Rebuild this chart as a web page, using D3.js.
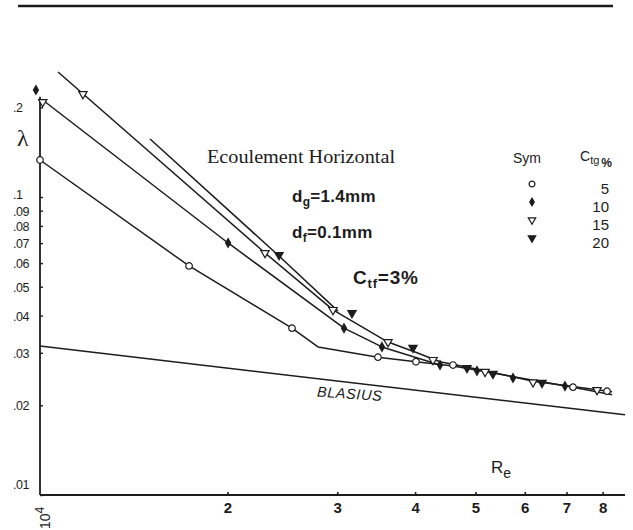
<!DOCTYPE html>
<html><head><meta charset="utf-8">
<script src="https://cdn.jsdelivr.net/npm/d3@7"></script>
<style>body{margin:0;background:#fff}svg{display:block}</style>
</head><body>
<svg id="c" width="633" height="530"></svg>
<script>
// ---- data ----
const reTicks = [20000, 30000, 40000, 50000, 60000, 70000, 80000];
const reTickLabels = ["2", "3", "4", "5", "6", "7", "8"];
const lambdaTicks = [0.01, 0.02, 0.03, 0.04, 0.05, 0.06, 0.07, 0.08, 0.09, 0.1, 0.2];
const lambdaTickLabels = [".01", ".02", ".03", ".04", ".05", ".06", ".07", ".08", ".09", ".1", ".2"];
const reMin = 10000, reMax = 86900, lambdaMin = 0.01, lambdaMax = 0.217;

const seriesNames = ["5", "10", "15", "20"];
// fitted curves (Re, lambda)
const curve5  = [[10000,0.1331],[17350,0.0587],[25380,0.0363],[27940,0.0314],[34870,0.0290],[40130,0.0280],[46020,0.0271],[71700,0.0230],[82830,0.0217]];
const curve10 = [[10100,0.2116],[20040,0.0701],[30760,0.0363],[35390,0.0314],[43860,0.0273]];
const curve15 = [[10690,0.2628],[22970,0.0649],[29530,0.0418],[36190,0.0326],[40280,0.0300],[43860,0.0280],[51810,0.0261],[61850,0.0241],[82830,0.0222]];
const curve20 = [[15020,0.1565],[24190,0.0634],[30080,0.0414]];
const blasius = [[10000,0.0316],[86900,0.0186]];
// measured points
const pts5  = [[10000,0.1331],[17350,0.0587],[25380,0.0363],[34870,0.0290],[40130,0.0280],[46020,0.0273],[71700,0.0230],[81320,0.0223]];
const pts10 = [[9850,0.2286],[20040,0.0701],[30760,0.0363],[35390,0.0314],[43860,0.0273],[50280,0.0261],[57440,0.0247],[69610,0.0232]];
const pts15 = [[10100,0.2084],[11720,0.2216],[22970,0.0649],[29530,0.0418],[36190,0.0326],[42740,0.0284],[51810,0.0259],[61850,0.0239],[78370,0.0225]];
const pts20 = [[24190,0.0639],[31680,0.0408],[39690,0.0312],[48460,0.0267],[53340,0.0255],[63950,0.0238]];

// ---- drawing ----
const ink = "#1c1c1c";
const svg = d3.select("#c");
svg.append("rect").attr("width",633).attr("height",530).attr("fill","#fff");
// top rule
svg.append("line").attr("x1",18).attr("x2",613).attr("y1",6).attr("y2",6)
  .attr("stroke",ink).attr("stroke-width",2.6);

const x = d3.scaleLog().domain([1e4, 1e5]).range([40, 663]);
const y = d3.scaleLog().domain([0.01, 0.1]).range([495, 197]);

// axes lines
svg.append("line").attr("x1",x(reMin)).attr("x2",x(reMax)).attr("y1",y(lambdaMin)).attr("y2",y(lambdaMin))
  .attr("stroke",ink).attr("stroke-width",1.8);
svg.append("line").attr("x1",x(reMin)).attr("x2",x(reMin)).attr("y1",y(lambdaMin)).attr("y2",y(lambdaMax))
  .attr("stroke",ink).attr("stroke-width",1.8);

const xAxis = d3.axisBottom(x).tickValues(reTicks).tickSizeInner(-3).tickSizeOuter(0).tickPadding(7)
  .tickFormat((d,i)=>reTickLabels[i]);
const gx = svg.append("g").attr("transform",`translate(0,${y(lambdaMin)})`).call(xAxis);
gx.select(".domain").remove();
gx.selectAll("line").attr("stroke",ink).attr("stroke-width",1.6);
gx.selectAll("text").attr("fill",ink).attr("font-family","'Liberation Sans Narrow','Arial Narrow','Liberation Sans',sans-serif")
  .attr("font-weight","bold").attr("font-size",15);

const yAxis = d3.axisLeft(y).tickValues(lambdaTicks).tickSizeInner(-3).tickSizeOuter(0)
  .tickFormat((d,i)=>lambdaTickLabels[i]);
const gy = svg.append("g").attr("transform",`translate(${x(reMin)},0)`).call(yAxis);
gy.select(".domain").remove();
gy.selectAll("line").attr("stroke",ink).attr("stroke-width",1.4);
gy.selectAll("text").attr("fill",ink).attr("text-anchor","start").attr("x",-27)
  .attr("font-family","'Liberation Sans',Arial,sans-serif").attr("font-size",12.5).attr("letter-spacing",-0.4)
  .attr("dy",(d)=> d===0.01 ? "-0.55em" : (d===0.1 ? "0.1em" : "0.36em"));

// 10^4 rotated label
const t4 = svg.append("text").attr("transform","translate(50,529) rotate(-90)")
  .attr("font-family","'Liberation Sans',Arial,sans-serif").attr("font-size",14).attr("fill",ink);
t4.append("tspan").text("10");
t4.append("tspan").attr("dy",-6).attr("font-size",12).text("4");

// axis titles
svg.append("text").attr("x",17).attr("y",146).attr("font-family","'Liberation Serif','Times New Roman',serif")
  .attr("font-size",24).attr("fill",ink).text("λ");
const re = svg.append("text").attr("x",491).attr("y",473).attr("font-family","'Liberation Sans',Arial,sans-serif")
  .attr("font-size",17).attr("fill",ink);
re.append("tspan").text("R");
re.append("tspan").attr("dy",5).attr("font-size",14).text("e");

// curves
const line = d3.line().x(d=>x(d[0])).y(d=>y(d[1]));
[curve5, curve10, curve15, curve20, blasius].forEach(c=>{
  svg.append("path").attr("d",line(c)).attr("fill","none").attr("stroke",ink).attr("stroke-width",1.5)
    .attr("stroke-linejoin","round");
});
svg.append("text").attr("transform",`translate(${x(27800)},${y(0.0248)+19}) rotate(4)`)
  .attr("font-family","'Liberation Sans',Arial,sans-serif").attr("font-style","italic")
  .attr("font-size",14.5).attr("letter-spacing",0.6).attr("fill",ink).text("BLASIUS");

// markers
const sym = {
  "5":  {type:d3.symbolCircle,  size:34, fill:"#fff", rot:0},
  "10": {type:d3.symbolDiamond, size:22, fill:ink,   rot:0},
  "15": {type:d3.symbolTriangle,size:30, fill:"#fff", rot:180},
  "20": {type:d3.symbolTriangle,size:30, fill:ink,   rot:180}
};
function drawPts(pts, key){
  const s = sym[key];
  svg.append("g").selectAll("path").data(pts).join("path")
    .attr("d", d3.symbol().type(s.type).size(s.size)())
    .attr("transform", d=>`translate(${x(d[0])},${y(d[1])}) rotate(${s.rot})`)
    .attr("fill", s.fill).attr("stroke", ink).attr("stroke-width", 1.2);
}
drawPts(pts5,"5"); drawPts(pts10,"10"); drawPts(pts15,"15"); drawPts(pts20,"20");

// annotations
svg.append("text").attr("x",207).attr("y",163).attr("font-family","'Liberation Serif','Times New Roman',serif")
  .attr("font-size",18.5).attr("fill",ink).attr("textLength",188).attr("lengthAdjust","spacingAndGlyphs")
  .text("Ecoulement Horizontal");
function subText(x0, y0, main, sub, rest, fs, fsSub, ls){
  const t = svg.append("text").attr("x",x0).attr("y",y0).attr("font-family","'Liberation Sans',Arial,sans-serif")
    .attr("font-weight","bold").attr("font-size",fs).attr("fill",ink).attr("letter-spacing",ls);
  t.append("tspan").text(main);
  t.append("tspan").attr("dy",4).attr("font-size",fsSub).text(sub);
  t.append("tspan").attr("dy",-4).text(rest);
}
subText(292,202,"d","g","=1.4mm",17,12,0.3);
subText(292,238,"d","f","=0.1mm",17,12,0.3);
subText(353,284,"C","tf","=3%",19,13,0.8);

// legend
const legFont = "'Liberation Sans',Arial,sans-serif";
svg.append("text").attr("x",513).attr("y",163).attr("font-family",legFont).attr("font-size",14).attr("fill",ink).text("Sym");
const ct = svg.append("text").attr("x",580).attr("y",161).attr("font-family",legFont).attr("font-size",14).attr("fill",ink);
ct.append("tspan").text("C");
ct.append("tspan").attr("dy",3).attr("font-size",11).text("tg");
ct.append("tspan").attr("dy",3).attr("dx",2).attr("font-size",12).attr("font-weight","bold").text("%");
const legY = [184, 202, 220, 238];
seriesNames.forEach((k,i)=>{
  const s = sym[k];
  svg.append("path").attr("d", d3.symbol().type(s.type).size(s.size*0.8)())
    .attr("transform",`translate(532,${legY[i]}) rotate(${s.rot})`)
    .attr("fill",s.fill).attr("stroke",ink).attr("stroke-width",1.2);
  svg.append("text").attr("x",609).attr("y",legY[i]+10).attr("text-anchor","end")
    .attr("font-family",legFont).attr("font-size",15).attr("fill",ink).text(k);
});
</script>
</body></html>
